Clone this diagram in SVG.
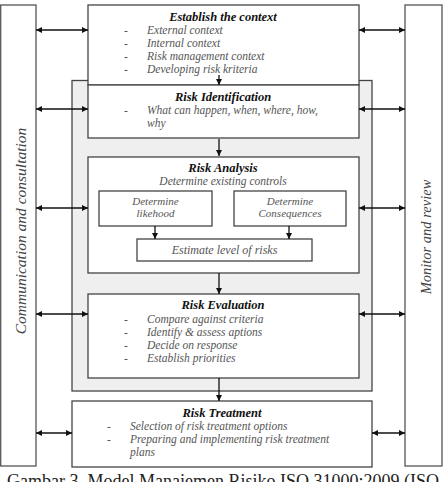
<svg xmlns="http://www.w3.org/2000/svg" width="446" height="482" viewBox="0 0 446 482">
<defs>
<marker id="ah" viewBox="0 0 10 10" refX="10" refY="5" markerWidth="6" markerHeight="6" markerUnits="userSpaceOnUse" orient="auto-start-reverse">
<path d="M0,0 L10,5 L0,10 z" fill="#111"/>
</marker>
<style>
.box{fill:#fff;stroke:#444;stroke-width:1.3}
.side{fill:#fff;stroke:#555;stroke-width:1.3}
.t{font-family:"Liberation Serif",serif;font-style:italic;font-weight:bold;font-size:12.5px;fill:#111;text-anchor:middle}
.i{font-family:"Liberation Serif",serif;font-style:italic;font-size:11.5px;fill:#555}
.s{font-family:"Liberation Serif",serif;font-style:italic;font-size:11px;fill:#555;text-anchor:middle}
.v{font-family:"Liberation Serif",serif;font-style:italic;font-size:15.5px;fill:#444;text-anchor:middle}
.c{stroke:#111;stroke-width:1.3;fill:none;marker-end:url(#ah)}
.d{stroke:#111;stroke-width:1.3;fill:none;marker-end:url(#ah);marker-start:url(#ah)}
</style>
</defs>
<rect width="446" height="482" fill="#fff"/>
<g id="comm">
<rect class="side" x="0.7" y="5" width="35.3" height="461"/>
<text class="v" transform="translate(26,231) rotate(-90)">Communication and consultation</text>
</g>
<g id="monitor">
<rect class="side" x="405" y="5" width="37" height="461"/>
<text class="v" style="font-size:14.5px" transform="translate(431,237) rotate(-90)">Monitor and review</text>
</g>
<g id="assessment">
<rect x="72" y="80.5" width="300" height="310.5" fill="#efefef" stroke="#444" stroke-width="1.3"/>
</g>
<g id="context">
<rect class="box" x="88" y="5" width="271" height="80"/>
<text class="t" x="223" y="21">Establish the context</text>
<text class="i" x="124" y="34">-</text><text class="i" x="147" y="34">External context</text>
<text class="i" x="124" y="47">-</text><text class="i" x="147" y="47">Internal context</text>
<text class="i" x="124" y="60">-</text><text class="i" x="147" y="60">Risk management context</text>
<text class="i" x="124" y="73">-</text><text class="i" x="147" y="73">Developing risk kriteria</text>
</g>
<g id="identification">
<rect class="box" x="88" y="85" width="271" height="53"/>
<text class="t" x="223" y="101">Risk Identification</text>
<text class="i" x="124" y="114">-</text><text class="i" x="147" y="114">What can happen, when, where, how,</text>
<text class="i" x="147" y="127">why</text>
</g>
<g id="analysis">
<rect class="box" x="88" y="157" width="271" height="116"/>
<text class="t" x="223" y="172">Risk Analysis</text>
<text class="i" x="223" y="185" text-anchor="middle">Determine existing controls</text>
</g>
<g id="likehood">
<rect class="box" x="99" y="191" width="113" height="35"/>
<text class="s" x="155.5" y="205">Determine</text>
<text class="s" x="155.5" y="217">likehood</text>
</g>
<g id="consequences">
<rect class="box" x="234" y="191" width="112" height="35"/>
<text class="s" x="290" y="205">Determine</text>
<text class="s" x="290" y="217">Consequences</text>
</g>
<g id="estimate">
<rect class="box" x="137" y="239" width="175" height="22"/>
<text class="s" x="224.5" y="254" style="font-size:12px">Estimate level of risks</text>
</g>
<g id="evaluation">
<rect class="box" x="88" y="294" width="271" height="84"/>
<text class="t" x="223" y="309">Risk Evaluation</text>
<text class="i" x="124" y="323">-</text><text class="i" x="147" y="323">Compare against criteria</text>
<text class="i" x="124" y="336">-</text><text class="i" x="147" y="336">Identify &amp; assess aptions</text>
<text class="i" x="124" y="349">-</text><text class="i" x="147" y="349">Decide on response</text>
<text class="i" x="124" y="362">-</text><text class="i" x="147" y="362">Establish priorities</text>
</g>
<g id="treatment">
<rect class="box" x="72" y="401" width="300" height="66"/>
<text class="t" x="222" y="417">Risk Treatment</text>
<text class="i" x="107" y="430">-</text><text class="i" x="130" y="430">Selection of risk treatment options</text>
<text class="i" x="107" y="443">-</text><text class="i" x="130" y="443">Preparing and implementing risk treatment</text>
<text class="i" x="130" y="456">plans</text>
</g>
<g id="connectors">
<line class="c" x1="219" y1="75" x2="219" y2="85"/>
<line class="c" x1="219" y1="139" x2="219" y2="156"/>
<line class="c" x1="155" y1="226" x2="155" y2="239"/>
<line class="c" x1="289" y1="226" x2="289" y2="239"/>
<line class="c" x1="219" y1="273" x2="219" y2="294"/>
<line class="c" x1="219" y1="378" x2="219" y2="401"/>
<line class="d" x1="36" y1="30" x2="88" y2="30"/>
<line class="d" x1="36" y1="109" x2="88" y2="109"/>
<line class="d" x1="36" y1="208" x2="88" y2="208"/>
<line class="d" x1="36" y1="314" x2="88" y2="314"/>
<line class="d" x1="36" y1="433" x2="72" y2="433"/>
<line class="d" x1="359" y1="30" x2="405" y2="30"/>
<line class="d" x1="359" y1="109" x2="405" y2="109"/>
<line class="d" x1="359" y1="208" x2="405" y2="208"/>
<line class="d" x1="359" y1="314" x2="405" y2="314"/>
<line class="d" x1="372" y1="433" x2="405" y2="433"/>
</g>
<text x="7" y="487" textLength="432" lengthAdjust="spacingAndGlyphs" font-family="Liberation Serif, serif" font-size="18" fill="#222">Gambar 3. Model Manajemen Risiko ISO 31000:2009 (ISO</text>
</svg>
